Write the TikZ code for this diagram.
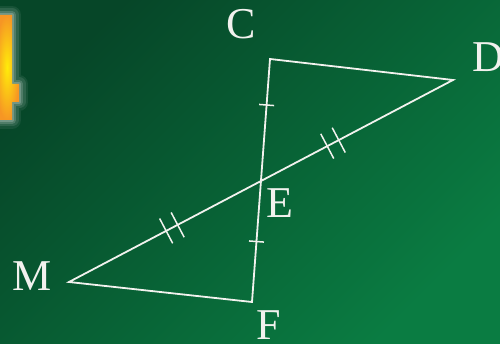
\documentclass[tikz,border=0pt]{standalone}
\usepackage{fontspec}
\setmainfont{Liberation Serif}
\usetikzlibrary{calc}
\definecolor{boardDark}{RGB}{6,70,40}
\definecolor{boardLight}{RGB}{10,124,66}
\definecolor{chalk}{RGB}{242,242,238}
\definecolor{numOrange}{RGB}{246,150,36}
\definecolor{numYellow}{RGB}{255,236,10}

\begin{document}
\begin{tikzpicture}[x=1pt,y=-1pt,
    chalkline/.style={draw=chalk, line width=1.8pt},
    tickmark/.style={draw=chalk, line width=1.5pt},
    vlabel/.style={text=chalk, inner sep=0pt, font=\fontsize{44}{48}\selectfont}]
  % Board
  \useasboundingbox (0,0) rectangle (500,344);
  \clip (0,0) rectangle (500,344);
  \shade[top color=boardDark, bottom color=boardLight, shading angle=45] (0,0) rectangle (500,344);

  % Number in the corner (glow, then the figure)
  \foreach \w/\o in {18/0.07,13/0.1,8/0.16,4/0.2}
    \draw[white, line width=\w pt, opacity=\o, line join=round]
      (-5,15) -- (12,15) -- (12,84) -- (19,84) -- (19,102) -- (12,102) -- (12,120) -- (-5,120) -- cycle;
  \shade[inner color=numYellow, outer color=numOrange]
    (-5,15) -- (12,15) -- (12,84) -- (19,84) -- (19,102) -- (12,102) -- (12,120) -- (-5,120) -- cycle;

  % Vertices
  \coordinate (C) at (270,59);
  \coordinate (D) at (453,80);
  \coordinate (M) at (69,282);
  \coordinate (F) at (252,302);
  \coordinate (E) at (intersection of C--F and M--D);

  % Labels
  \node[vlabel] (lblC) at (241,24)  {C};
  \node[vlabel] (lblD) at (488,57)  {D};
  \node[vlabel] (lblE) at (280,203) {E};
  \node[vlabel] (lblM) at (32,276)  {M};
  \node[vlabel] (lblF) at (269,325) {F};

  % Sides
  \draw[chalkline] (C) -- (D) -- (M) -- (F) -- cycle;

  % Equal parts: CE = EF
  \foreach \a/\b/\p in {C/E/0.377, E/F/0.5}
    \draw[tickmark] ($(\a)!\p!(\b)!7.5pt!90:(\b)$) -- ($(\a)!\p!(\b)!7.5pt!-90:(\b)$);

  % Equal parts: ME = ED
  \foreach \a/\b/\p in {M/E/0.536, E/D/0.375}
    \foreach \s in {-6.5,6.5}
      \draw[tickmark] ($(\a)!\p!(\b)!\s pt!(\b)!14pt!90:(\b)$) -- ($(\a)!\p!(\b)!\s pt!(\b)!14pt!-90:(\b)$);
\end{tikzpicture}
\end{document}
